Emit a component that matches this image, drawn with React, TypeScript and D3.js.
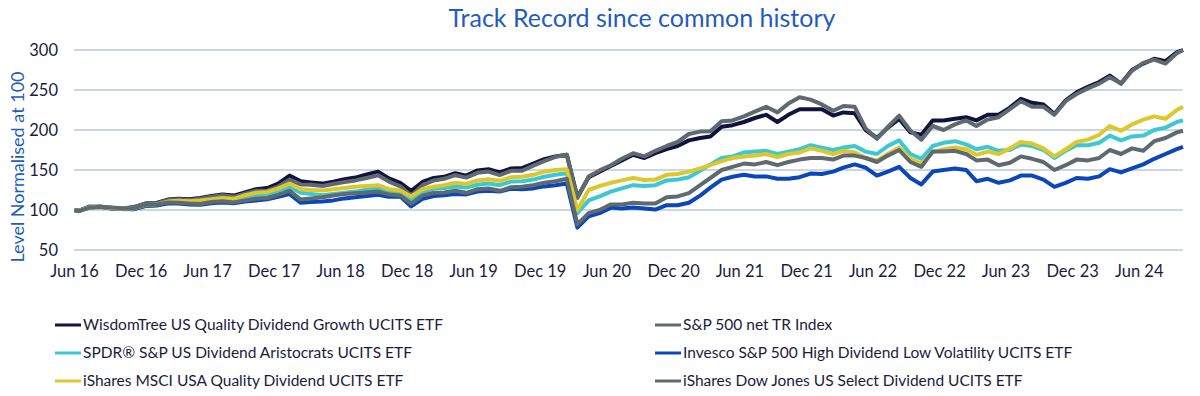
import * as d3 from "d3";
import { useEffect, useRef } from "react";

// common history window: first day and last day of the track record
const startDate = "2016-06-09";
const endDate = "2024-10-07";

const tickLabels = [
  "Jun 16", "Dec 16", "Jun 17", "Dec 17", "Jun 18", "Dec 18", "Jun 19", "Dec 19", "Jun 20",
  "Dec 20", "Jun 21", "Dec 21", "Jun 22", "Dec 22", "Jun 23", "Dec 23", "Jun 24",
];
const yTicks = [50, 100, 150, 200, 250, 300];

const seriesNames = [
  "WisdomTree US Quality Dividend Growth UCITS ETF",
  "S&P 500 net TR Index",
  "SPDR® S&P US Dividend Aristocrats UCITS ETF",
  "Invesco S&P 500 High Dividend Low Volatility UCITS ETF",
  "iShares MSCI USA Quality Dividend UCITS ETF",
  "iShares Dow Jones US Select Dividend UCITS ETF",
];
const seriesColors = ["#12123f", "#5e6a70", "#3cc8d3", "#0b47b8", "#dcc72c", "#5e6a70"];

// start, then one value per month (20th) Jun 16 .. Sep 24, then end
const wisdomTree = [100,
  98.8, 103.5, 104, 102, 101.5, 103.5,
  108, 108.8, 113, 114, 113.5, 115,
  117.5, 119.5, 118, 122, 126, 127.5,
  133, 143, 136, 134.5, 133, 135.5,
  138.5, 140.5, 144.5, 148, 139.5, 134,
  124, 135, 140, 141.5, 146, 143,
  149.5, 151, 147, 152, 152.5, 158,
  163.5, 167, 169, 116, 141, 148,
  155, 162, 169, 165, 171, 176,
  180, 187, 190, 192, 204, 206,
  210, 215, 219, 210, 219, 226,
  226, 226, 218, 222, 221, 200,
  190, 203, 214, 197, 194, 212,
  212, 214, 216, 212, 219, 219,
  228, 239, 234, 232, 220, 237,
  247, 254, 260, 268, 258, 275,
  283, 289, 286, 297,
  300];

const sp500 = [100,
  98.6, 103, 103.6, 101.8, 101.8, 104,
  108, 108.3, 112.3, 113.3, 112.5, 114,
  116.7, 118.6, 116.5, 120.5, 124, 124.5,
  129.3, 138, 132, 131.5, 130, 132.5,
  135, 137, 140, 143.5, 135.5, 129.5,
  118, 131, 137, 139, 143.5, 140.5,
  146.5, 148, 143.5, 149, 149, 155.5,
  161, 166.5, 169, 115, 142, 149.5,
  156, 164, 171, 167, 174, 180,
  185, 195, 198, 198.5, 211, 212,
  217, 223, 229, 222, 233, 241,
  238, 232, 224, 230, 229, 202,
  189, 204, 218, 199, 188, 205,
  200, 207, 212, 205, 213, 216,
  226, 236, 229, 229, 219, 236,
  245, 252, 258, 266, 258, 274,
  284, 288, 283, 296,
  300];

const spdrAristocrats = [100,
  98.5, 103.5, 104, 102.5, 101, 101,
  105, 106, 109.5, 110, 109.5, 110.5,
  112, 113.5, 112.5, 115.5, 118, 119,
  122, 128, 121.5, 120, 118.5, 120,
  121.5, 123, 125.5, 127, 122.5, 121,
  112, 122, 127, 127.5, 129.5, 128,
  131.5, 133, 131, 135.5, 136, 138,
  141.5, 144, 146, 96, 112, 117,
  123, 127, 131, 130, 131, 137,
  138, 141, 149, 157, 165, 167,
  172, 173, 174, 170, 173, 176,
  181, 178, 175, 178, 180, 173,
  170, 180, 187, 170, 164, 180,
  184, 186, 182, 176, 179, 174,
  175, 182, 180, 175, 165, 174,
  181, 181, 184, 193, 187, 192,
  193, 200, 203, 210,
  212];

const invescoLowVol = [100,
  99, 104.5, 104, 102.5, 101.5, 101,
  105, 105.5, 108, 108, 107, 106.5,
  108.5, 109.5, 108.5, 110.5, 112, 113.5,
  116.5, 120, 109, 110, 110.5, 112,
  114.5, 116, 117.5, 119, 116.5, 117,
  104.5, 114, 117.5, 118.5, 120, 119.5,
  123, 124, 123, 126.5, 126, 127,
  129.5, 131, 133, 78, 92, 96,
  103, 102, 103, 102, 100.5, 106,
  106, 109, 118, 128, 138, 141.5,
  144, 142, 142, 139, 139, 141,
  145.5, 145, 148, 153, 157, 153,
  143, 148, 154, 140, 132, 148,
  150, 152, 150, 136, 139, 134,
  137, 143, 143, 138, 129, 134,
  140, 139, 142, 151, 147, 152,
  157, 164, 170, 176,
  179];

const msciQuality = [100,
  98.8, 103.5, 104, 102.5, 101.5, 102,
  106, 107, 110.5, 111.5, 111, 112,
  113.5, 115, 114, 118.5, 121.5, 122.5,
  127, 133, 126, 125, 124.5, 126,
  127.5, 129, 130, 131, 126, 124.5,
  117, 126, 129, 131, 134, 132.5,
  137, 138.5, 136.5, 141, 141.5, 144,
  148, 150, 151, 100, 125, 130,
  134, 137, 140, 137.5, 138, 144,
  145, 148, 152, 156, 161, 165,
  167, 168, 170, 166, 170, 172,
  177, 174, 170, 174, 172, 165,
  162, 170, 178, 164, 158, 172,
  176, 178, 176, 169, 173, 170,
  177, 185, 183, 177, 167, 176,
  185, 188, 194, 205, 199, 207,
  213, 217, 214, 225,
  229];

const dowJonesSelect = [100,
  98.5, 103, 104, 103, 102, 102.5,
  106.5, 106.5, 109.5, 109, 108, 107.5,
  110, 111, 109.5, 112, 114, 115,
  119, 124, 113, 114.5, 116, 118,
  120, 121, 122, 123, 119.5, 118,
  108, 118, 121.5, 122, 124, 121.5,
  126, 127, 124, 128.5, 129, 131,
  134, 136, 139, 82, 96, 100,
  107, 107, 109, 108, 108, 116,
  117, 121, 131, 140, 150, 154,
  158, 157, 160, 156, 160, 163,
  165, 165, 163, 168, 168, 165,
  160, 168, 175, 160, 154, 173,
  173, 174, 170, 162, 163, 156,
  159, 167, 164, 160, 150, 156,
  163, 162, 165, 175, 170, 177,
  174, 186, 190, 197,
  199];

const seriesValues = [wisdomTree, sp500, spdrAristocrats, invescoLowVol, msciQuality, dowJonesSelect];

const FONT = "Lato, 'Open Sans', sans-serif";

export default function App() {
  const svgRef = useRef<SVGSVGElement | null>(null);

  useEffect(() => {
    if (!svgRef.current) return;
    const svg = d3.select(svgRef.current);
    svg.selectAll("*").remove();

    const parse = d3.timeParse("%Y-%m-%d");
    const months = d3.timeMonth.range(new Date(2016, 5, 1), new Date(2024, 9, 1));
    const dates = [
      parse(startDate)!,
      ...months.map((d) => new Date(d.getFullYear(), d.getMonth(), 20)),
      parse(endDate)!,
    ];
    const tickDates = tickLabels.map((l) => {
      const [mon, yy] = l.split(" ");
      return new Date(2000 + +yy, mon === "Jun" ? 5 : 11, 9);
    });

    const x = d3.scaleTime().domain([dates[0], dates[dates.length - 1]]).range([74.5, 1183]);
    const y = d3.scaleLinear().domain([50, 300]).range([250, 50]);

    // title
    svg.append("text")
      .attr("x", 642).attr("y", 27)
      .attr("text-anchor", "middle")
      .attr("font-family", FONT).attr("font-size", 25)
      .attr("fill", "#1f5cc0")
      .text("Track Record since common history");

    // grid + y labels
    svg.append("g").selectAll("line").data(yTicks).join("line")
      .attr("x1", 74).attr("x2", 1183)
      .attr("y1", (d) => y(d)).attr("y2", (d) => y(d))
      .attr("stroke", "#bccada").attr("stroke-width", 1.5);

    svg.append("g").selectAll("text").data(yTicks).join("text")
      .attr("x", 58).attr("y", (d) => y(d)).attr("dy", "0.35em")
      .attr("text-anchor", "end")
      .attr("font-family", FONT).attr("font-size", 16.5)
      .attr("fill", "#1b1b40")
      .text((d) => d);

    svg.append("text")
      .attr("transform", "translate(24,167) rotate(-90)")
      .attr("text-anchor", "middle")
      .attr("font-family", FONT).attr("font-size", 18)
      .attr("fill", "#1f5cc0")
      .text("Level Normalised at 100");

    // x labels
    svg.append("g").selectAll("text").data(tickDates).join("text")
      .attr("x", (d) => x(d)).attr("y", 277)
      .attr("text-anchor", "middle")
      .attr("font-family", FONT).attr("font-size", 16.5)
      .attr("fill", "#1b1b40")
      .text((_, i) => tickLabels[i]);

    // lines
    const line = d3.line<number>()
      .x((_, i) => x(dates[i]))
      .y((d) => y(d));

    svg.append("g").selectAll("path").data(seriesValues).join("path")
      .attr("d", (d) => line(d))
      .attr("fill", "none")
      .attr("stroke", (_, i) => seriesColors[i])
      .attr("stroke-width", 4)
      .attr("stroke-linejoin", "round");

    // legend
    const legend = svg.append("g").selectAll("g").data(seriesNames).join("g")
      .attr("transform", (_, i) => `translate(${i % 2 === 0 ? 55 : 655},${325 + Math.floor(i / 2) * 28})`);
    legend.append("line")
      .attr("x1", 0).attr("x2", 26).attr("y1", 0).attr("y2", 0)
      .attr("stroke", (_, i) => seriesColors[i]).attr("stroke-width", 3);
    legend.append("text")
      .attr("x", 28).attr("dy", "0.35em")
      .attr("font-family", FONT).attr("font-size", 15.5)
      .attr("fill", "#1b1b40")
      .text((d) => d);
  }, []);

  return (
    <svg
      ref={svgRef}
      width={1200}
      height={396}
      style={{ position: "absolute", left: 0, top: 0, background: "#fff" }}
    />
  );
}
